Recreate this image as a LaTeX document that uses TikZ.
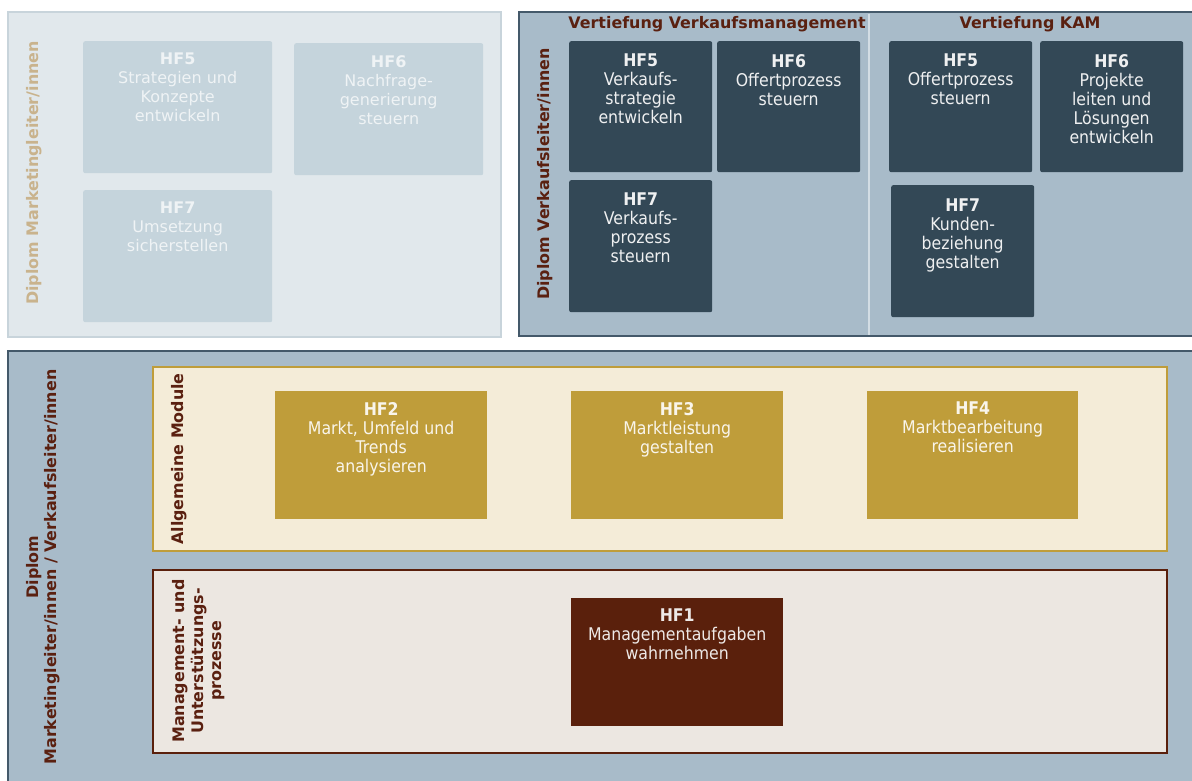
\documentclass[tikz,border=0pt]{standalone}
\usepackage{fontspec}
\setmainfont{DejaVu Sans}
\newfontfamily\condfont[FakeStretch=0.9]{DejaVu Sans}
\usetikzlibrary{positioning}
\definecolor{palepanel}{HTML}{E1E8EC}
\definecolor{paleedge}{HTML}{C8D4DB}
\definecolor{palebox}{HTML}{C5D4DC}
\definecolor{paletext}{HTML}{EFF3F5}
\definecolor{tanlabel}{HTML}{C9B38D}
\definecolor{steelpanel}{HTML}{A8BBC9}
\definecolor{steeledge}{HTML}{44596A}
\definecolor{slatebox}{HTML}{334856}
\definecolor{divline}{HTML}{D3DDE4}
\definecolor{brownlabel}{HTML}{5A2010}
\definecolor{creamfill}{HTML}{F4ECD8}
\definecolor{goldbox}{HTML}{BF9D3A}
\definecolor{greyfill}{HTML}{ECE7E1}
\definecolor{darkbrown}{HTML}{5A200C}

\tikzset{
  panel/.style={line width=2.5pt},
  modbox/.style={anchor=north west, inner sep=0pt, minimum width=#1},
  palebx/.style={modbox=189pt, fill=palebox, rounded corners=2pt, minimum height=132pt},
  slatebx/.style={modbox=143pt, fill=slatebox, rounded corners=2pt, minimum height=131pt},
  goldbx/.style={modbox=212pt, fill=goldbox, minimum height=128pt},
  palelbl/.style={align=center, inner sep=0pt, text=paletext,
    font=\fontsize{16}{19}\selectfont},
  boxlbl/.style={align=center, inner sep=0pt, text=white!92!slatebox,
    font=\condfont\fontsize{17.5}{19}\selectfont},
  sidelbl/.style={rotate=90, align=center, inner sep=0pt, text=brownlabel,
    font=\bfseries\fontsize{15.9}{18.5}\selectfont}
}

\begin{document}
\begin{tikzpicture}[x=1pt, y=-1pt]
    \useasboundingbox (0,0) rectangle (1192,780);
    \fill[white] (0,0) rectangle (1192,780);
    \clip (0,0) rectangle (1192,780);

    % Diplom Marketingleiter
    \draw[panel, draw=paleedge, fill=palepanel] (8,12) rectangle (501,337);
    \node (mkLbl) [sidelbl, text=tanlabel] at (34,173) {Diplom Marketingleiter/innen};
    \node (mkA) [palebx] at (83,41) {};
    \node (mkB) [palebx] at (294,43) {};
    \node (mkC) [palebx, minimum height=132pt] at (83,190) {};
    \node (mkAt) [palelbl, below=12pt of mkA.north] {\textbf{HF5}\\Strategien und\\Konzepte\\entwickeln};
    \node (mkBt) [palelbl, below=12pt of mkB.north] {\textbf{HF6}\\Nachfrage-\\generierung\\steuern};
    \node (mkCt) [palelbl, below=12pt of mkC.north] {\textbf{HF7}\\Umsetzung\\sicherstellen};

    % Diplom Verkaufsleiter
    \draw[panel, draw=steeledge, fill=steelpanel] (519,12) rectangle (1205,336);
    \draw[line width=2pt, divline] (869,13.5) -- (869,334.5);
    \node (vkLbl) [sidelbl] at (545,174) {Diplom Verkaufsleiter/innen};
    \node (vmHead) [sidelbl, rotate=-90] at (717,24) {Vertiefung Verkaufsmanagement};
    \node (kamHead) [sidelbl, rotate=-90] at (1030,24) {Vertiefung KAM};
    \node (vmA) [slatebx] at (569,41) {};
    \node (vmB) [slatebx] at (717,41) {};
    \node (vmC) [slatebx, minimum height=132pt] at (569,180) {};
    \node (kamA) [slatebx] at (889,41) {};
    \node (kamB) [slatebx] at (1040,41) {};
    \node (kamC) [slatebx, minimum height=132pt] at (891,185) {};
    \node (vmAt) [boxlbl, below=13pt of vmA.north] {\textbf{HF5}\\Verkaufs-\\strategie\\entwickeln};
    \node (vmBt) [boxlbl, below=13pt of vmB.north] {\textbf{HF6}\\Offertprozess\\steuern};
    \node (vmCt) [boxlbl, below=13pt of vmC.north] {\textbf{HF7}\\Verkaufs-\\prozess\\steuern};
    \node (kamAt) [boxlbl, below=13pt of kamA.north] {\textbf{HF5}\\Offertprozess\\steuern};
    \node (kamBt) [boxlbl, below=13pt of kamB.north] {\textbf{HF6}\\Projekte\\leiten und\\Lösungen\\entwickeln};
    \node (kamCt) [boxlbl, below=14pt of kamC.north] {\textbf{HF7}\\Kunden-\\beziehung\\gestalten};

    % Diplom beide
    \draw[panel, draw=steeledge, fill=steelpanel] (8,351) rectangle (1205,800);
    \node (dpLbl) [sidelbl] at (43,567) {Diplom\\Marketingleiter/innen / Verkaufsleiter/innen};

    % Allgemeine Module
    \draw[panel, draw=goldbox, fill=creamfill] (153,367) rectangle (1167,551);
    \node (amLbl) [sidelbl] at (179,459) {Allgemeine Module};
    \node (hfB) [goldbx] at (275,391) {};
    \node (hfC) [goldbx] at (571,391) {};
    \node (hfD) [goldbx, minimum width=211pt] at (867,391) {};
    \node (hfBt) [boxlbl, below=11pt of hfB.north, text=white!90!goldbox] {\textbf{HF2}\\Markt, Umfeld und\\Trends\\analysieren};
    \node (hfCt) [boxlbl, below=11pt of hfC.north, text=white!90!goldbox] {\textbf{HF3}\\Marktleistung\\gestalten};
    \node (hfDt) [boxlbl, below=11pt of hfD.north, text=white!90!goldbox] {\textbf{HF4}\\Marktbearbeitung\\realisieren};

    % Management- und Unterstuetzungsprozesse
    \draw[panel, draw=darkbrown, fill=greyfill] (153,570) rectangle (1167,753);
    \node (mgLbl) [sidelbl] at (199,661) {Management- und\\Unterstützungs-\\prozesse};
    \node (hfA) [goldbx, fill=darkbrown] at (571,598) {};
    \node (hfAt) [boxlbl, below=11pt of hfA.north, text=white!90!darkbrown] {\textbf{HF1}\\Managementaufgaben\\wahrnehmen};
\end{tikzpicture}
\end{document}
